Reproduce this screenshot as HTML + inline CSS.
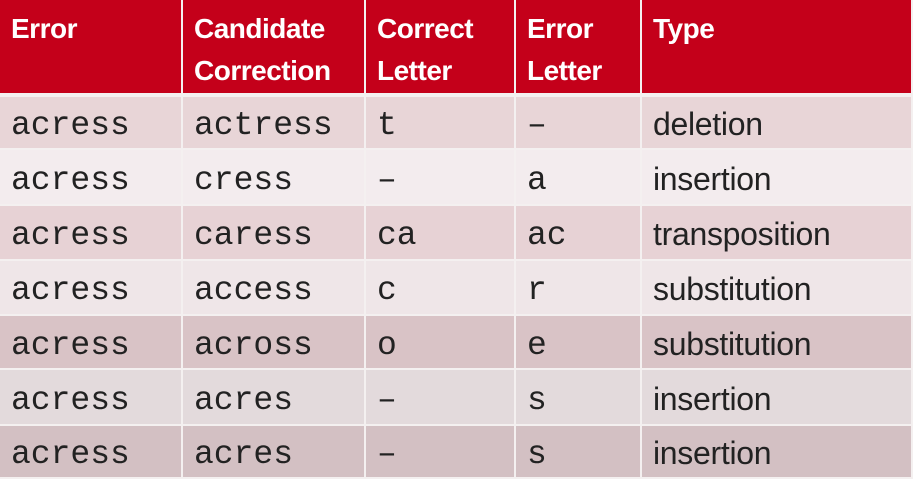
<!DOCTYPE html>
<html><head><style>
html,body{margin:0;padding:0;}
body{width:913px;height:479px;background:#f4f0f0;position:relative;overflow:hidden;font-family:"Liberation Sans",sans-serif;}
.c{position:absolute;box-sizing:border-box;display:flex;align-items:center;padding-left:11px;color:#222;}
.h{background:#c4001a;color:#fff;font-weight:bold;font-size:28px;line-height:42px;align-items:flex-start;padding-top:8px;letter-spacing:-0.5px;}
.m{font-family:"Liberation Mono",monospace;font-size:33px;padding-top:6px;}
.s{font-size:32px;padding-top:4px;letter-spacing:-0.3px;}
</style></head><body>
<div id="t"></div>
<script>
var xs=[0,183,366,516,642,913];
var hdr=["Error","Candidate<br>Correction","Correct<br>Letter","Error<br>Letter","Type"];
var rows=[["acress","actress","t","–","deletion"],["acress","cress","–","a","insertion"],["acress","caress","ca","ac","transposition"],["acress","access","c","r","substitution"],["acress","across","o","e","substitution"],["acress","acres","–","s","insertion"],["acress","acres","–","s","insertion"]];
var cols=["#e8d5d7","#f3ecee","#e7d2d5","#efe6e8","#d9c3c6","#e3dadc","#d3c0c3"];
var rt=[97,150,206,261,316,370,426,479];
var h="";
for(var i=0;i<5;i++){h+='<div class="c h" style="left:'+xs[i]+'px;top:0;width:'+(xs[i+1]-xs[i]-2)+'px;height:93px">'+hdr[i]+'</div>';}
for(var r=0;r<7;r++){for(var i=0;i<5;i++){
h+='<div class="c '+(i==4?'s':'m')+'" style="left:'+xs[i]+'px;top:'+rt[r]+'px;width:'+(xs[i+1]-xs[i]-2)+'px;height:'+(rt[r+1]-rt[r]-2)+'px;background:'+cols[r]+'">'+rows[r][i]+'</div>';}}
document.getElementById("t").innerHTML=h;
</script>
</body></html>
